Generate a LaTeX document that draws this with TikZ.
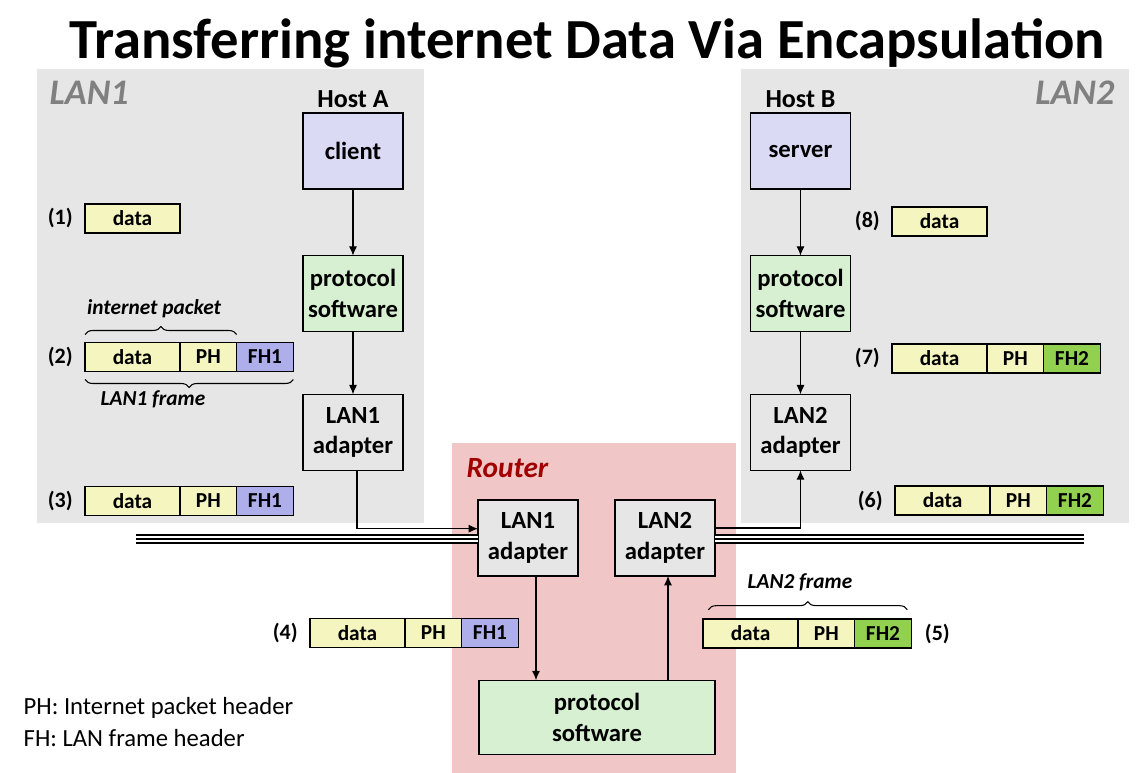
\documentclass[tikz,border=0pt]{standalone}
\usepackage{fontspec}
\setmainfont{Carlito}
\usetikzlibrary{positioning}
\usetikzlibrary{arrows.meta}
\usetikzlibrary{decorations.pathreplacing}

\definecolor{lanbg}{RGB}{230,230,230}
\definecolor{routerbg}{RGB}{240,198,198}
\definecolor{hostfill}{RGB}{218,218,245}
\definecolor{protofill}{RGB}{215,240,210}
\definecolor{adfill}{RGB}{230,230,230}
\definecolor{datafill}{RGB}{245,245,192}
\definecolor{fhone}{RGB}{174,174,235}
\definecolor{fhtwo}{RGB}{146,208,80}
\definecolor{routerred}{RGB}{160,0,0}

% one packet: name, west point of data, FH text, FH colour
\newcommand{\pkt}[4]{%
  \node[databox, anchor=west] (#1d) at (#2) {data};
  \node[phbox, right=0pt of #1d] (#1p) {PH};
  \node[phbox, fill=#4, right=0pt of #1p] (#1f) {#3};
}

\begin{document}
\begin{tikzpicture}[x=0.75pt,y=-0.75pt,
  box/.style={draw, line width=0.9pt, outer sep=0pt, inner sep=0pt, minimum width=75pt, minimum height=57pt, align=center, font=\fontsize{18.5}{23}\selectfont\bfseries},
  databox/.style={draw, line width=0.9pt, outer sep=0pt, inner sep=0pt, fill=datafill, minimum width=71.25pt, minimum height=21.75pt, font=\fontsize{16}{19}\selectfont\bfseries},
  phbox/.style={databox, minimum width=42.5pt},
  num/.style={inner sep=0pt, font=\fontsize{16.5}{19}\selectfont\bfseries},
  arr/.style={-{Latex[length=7pt,width=6pt]}, line width=0.8pt},
  bus/.style={line width=1.1pt, double=white, double distance=4.9pt, postaction={draw, line width=1.1pt}},
  brc/.style={decorate, decoration={brace, amplitude=6pt}, line width=0.8pt},
  note/.style={font=\fontsize{16}{19}\selectfont\bfseries\itshape},
  lan/.style={text=gray, font=\fontsize{27}{30}\selectfont\bfseries\itshape}]

\useasboundingbox (0,0) rectangle (1146,773);

\node (title) at (587,43) {\fontsize{42.5}{48}\selectfont\bfseries Transferring internet Data Via Encapsulation};

% backgrounds
\fill[lanbg] (37,69) rectangle (424,523);
\fill[lanbg] (741,69) rectangle (1129,523);
\fill[routerbg] (452,443) rectangle (736,773);

\node[lan, anchor=west] (lanA) at (45,93) {LAN1};
\node[lan, anchor=east] (lanB) at (1119,93) {LAN2};
\node[anchor=west, text=routerred, font=\fontsize{22}{26}\selectfont\bfseries\itshape] (router) at (462,468) {Router};

% host A
\node[box, fill=hostfill] (client) at (353,151) {client};
\node[box, fill=protofill, below=50pt of client] (protoA) {protocol\\software};
\node[box, fill=adfill, below=47pt of protoA] (adA) {LAN1\\adapter};
\node[above=4pt of client, inner sep=0pt, font=\fontsize{19.5}{23}\selectfont\bfseries] (hostA) {Host A};

% host B
\node[box, fill=hostfill] (server) at (800.5,151) {server};
\node[box, fill=protofill, below=50pt of server] (protoB) {protocol\\software};
\node[box, fill=adfill, below=47pt of protoB] (adB) {LAN2\\adapter};
\node[above=4pt of server, inner sep=0pt, font=\fontsize{19.5}{23}\selectfont\bfseries] (hostB) {Host B};

% router
\node[box, fill=adfill] (rA) at (528,538) {LAN1\\adapter};
\node[box, fill=adfill] (rB) at (665,538) {LAN2\\adapter};
\node[box, fill=protofill, minimum width=177pt, minimum height=56pt] (rP) at (597,717.5) {protocol\\software};

% the wires
\coordinate (busL) at (136,539);
\coordinate (busR) at (1084,539);
\draw[bus] (busL) -- (busL -| rA.west);
\draw[bus] (rB.east |- busR) -- (busR);

% arrows
\draw[arr] (client) -- (protoA);
\draw[arr] (protoA) -- (adA);
\draw[arr] ([xshift=3pt]adA.south) |- ([yshift=7pt]rA.west);
\draw[arr] ([xshift=6pt]rA.south) -- ([xshift=6pt]rA.south |- rP.north);
\draw[arr] ([xshift=2.25pt]rB.south |- rP.north) -- ([xshift=2.25pt]rB.south);
\draw[arr] ([yshift=7.5pt]rB.east) -| (adB.south);
\draw[arr] (server) -- (protoB);
\draw[arr] (protoB) -- (adB);

% packets
\node[databox, anchor=west] (p1d) at (85,218.5) {data};
\pkt{p2}{85,357}{FH1}{fhone}
\pkt{p3}{85,501}{FH1}{fhone}
\pkt{p4}{310,633}{FH1}{fhone}
\pkt{p5}{703,633.5}{FH2}{fhtwo}
\pkt{p6}{895,500.5}{FH2}{fhtwo}
\pkt{p7}{892,358.5}{FH2}{fhtwo}
\node[databox, anchor=west] (p8d) at (892,221.5) {data};

\node[num, left=9pt of p1d] (n1) {(1)};
\node[num, left=9pt of p2d] (n2) {(2)};
\node[num, left=9pt of p3d] (n3) {(3)};
\node[num, left=9pt of p4d] (n4) {(4)};
\node[num, right=10pt of p5f] (n5) {(5)};
\node[num, left=9pt of p6d] (n6) {(6)};
\node[num, left=9pt of p7d] (n7) {(7)};
\node[num, left=9pt of p8d] (n8) {(8)};

% braces
\draw[brc] ([yshift=6pt]p2d.north west) -- ([yshift=6pt]p2p.north east);
\node[note] (ipkt) at (154,309) {internet packet};
\draw[brc] ([yshift=-6pt]p2f.south east) -- ([yshift=-6pt]p2d.south west);
\node[note] (lfA) at (153,399) {LAN1 frame};
\draw[brc] ([xshift=4pt,yshift=7pt]p5d.north west) -- ([xshift=-3pt,yshift=7pt]p5f.north east);
\node[note] (lfB) at (800,582) {LAN2 frame};

% legend
\node[anchor=west, font=\fontsize{18.5}{22}\selectfont] (legPH) at (19,708) {PH: Internet packet header};
\node[anchor=west, font=\fontsize{18.5}{22}\selectfont] (legFH) at (19,738) {FH: LAN frame header};

\end{tikzpicture}
\end{document}
